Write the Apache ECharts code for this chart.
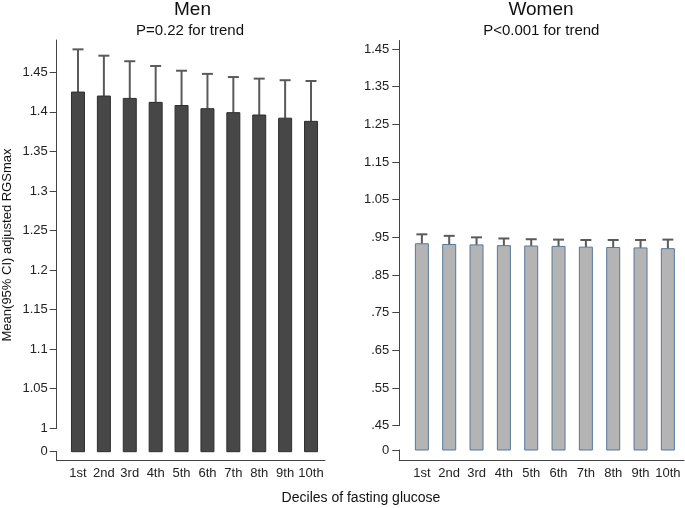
<!DOCTYPE html>
<html><head><meta charset="utf-8">
<script src="https://cdn.jsdelivr.net/npm/echarts@6/dist/echarts.min.js"></script>
<style>html,body{margin:0;padding:0;background:#fff}#c{width:685px;height:508px}</style>
</head><body><div id="c"></div>
<script>
// ---- data ----
const categories = ['1st','2nd','3rd','4th','5th','6th','7th','8th','9th','10th'];
const menMean    = [1.425,1.420,1.417,1.412,1.408,1.404,1.399,1.396,1.392,1.388];
const menUpper   = [1.479,1.471,1.464,1.458,1.452,1.448,1.444,1.442,1.440,1.439];
const womenMean  = [0.933,0.931,0.930,0.928,0.927,0.926,0.924,0.923,0.922,0.920];
const womenUpper = [0.958,0.954,0.950,0.947,0.945,0.944,0.943,0.943,0.943,0.944];
const menTicks   = [1,1.05,1.1,1.15,1.2,1.25,1.3,1.35,1.4,1.45];
const womenTicks = [0.45,0.55,0.65,0.75,0.85,0.95,1.05,1.15,1.25,1.35,1.45];
const menTitle = 'Men', menSub = 'P=0.22 for trend';
const womenTitle = 'Women', womenSub = 'P<0.001 for trend';
const yTitle = 'Mean(95% CI) adjusted RGSmax';
const xTitle = 'Deciles of fasting glucose';

// ---- layout ----
const FONT = 'Liberation Sans, Arial, sans-serif';
const panels = [
  {left:56.7, right:325, xMin:0.178, xMax:10.54, top:40, lo:1, topTick:1.45, topTickY:72.3,
   breakY:428.3, zeroY:451.7, bottom:460.7, ticks:menTicks, mean:menMean, upper:menUpper,
   fill:'#474747', stroke:'#2e2e2e', err:'#5a5a5a', fmt:v=>String(+v.toFixed(2)), tickLen:7, margin:9},
  {left:399.3, right:684, xMin:0.174, xMax:10.59, top:40.5, lo:0.45, topTick:1.45, topTickY:49,
   breakY:425.7, zeroY:450, bottom:460.7, ticks:womenTicks, mean:womenMean, upper:womenUpper,
   fill:'#b4b4b4', stroke:'#56789a', err:'#5a5a5a', fmt:v=>String(+v.toFixed(2)).replace(/^0\./,'.'), tickLen:7, margin:10}
];
panels.forEach(p=>{
  const upp = (p.topTick - p.lo)/(p.breakY - p.topTickY); // units per px
  p.hi = p.lo + (p.breakY - p.top)*upp;
  p.t0 = p.lo - (p.zeroY - p.breakY)*upp;
  p.tMin = p.lo - (p.bottom - p.breakY)*upp;
  p.tf = v => v >= p.lo ? v : p.t0 + (v/p.lo)*(p.lo - p.t0);
});

const grids=[], xAxes=[], yAxes=[], series=[];
const axisLineStyle = {color:'#444', width:1};
const labelStyle = {color:'#222', fontSize:13, fontFamily:FONT};
panels.forEach((p,pi)=>{
  const w = p.right - p.left;
  grids.push({left:p.left, top:p.top, width:w, height:p.bottom-p.top, containLabel:false, outerBoundsMode:'none'});
  grids.push({left:p.left, top:p.top, width:w, height:p.breakY-p.top, containLabel:false, outerBoundsMode:'none'});
  grids.push({left:p.left, top:p.zeroY, width:w, height:p.bottom-p.zeroY, containLabel:false, outerBoundsMode:'none'});
  const g0 = pi*3;
  xAxes.push({gridIndex:g0, type:'value', min:p.xMin, max:p.xMax, show:false});
  yAxes.push({gridIndex:g0, type:'value', min:p.tMin, max:p.hi, show:false});
  xAxes.push({gridIndex:g0+1, type:'value', min:p.xMin, max:p.xMax, show:false});
  yAxes.push({gridIndex:g0+1, type:'value', min:p.lo, max:p.hi,
    axisLine:{show:true, lineStyle:axisLineStyle},
    axisTick:{show:true, length:p.tickLen, customValues:p.ticks, lineStyle:axisLineStyle},
    axisLabel:{customValues:p.ticks, formatter:p.fmt, margin:p.margin, ...labelStyle},
    splitLine:{show:false}});
  xAxes.push({gridIndex:g0+2, type:'value', min:p.xMin, max:p.xMax, position:'bottom',
    axisLine:{show:true, onZero:false, lineStyle:axisLineStyle},
    axisTick:{show:false},
    axisLabel:{customValues:categories.map((c,i)=>i+1), formatter:v=>categories[Math.round(v)-1], margin:6, ...labelStyle},
    splitLine:{show:false}});
  yAxes.push({gridIndex:g0+2, type:'value', min:-1, max:0,
    axisLine:{show:true, onZero:false, lineStyle:axisLineStyle},
    axisTick:{show:true, length:p.tickLen, customValues:[0], lineStyle:axisLineStyle},
    axisLabel:{customValues:[0], formatter:()=> '0', margin:p.margin, ...labelStyle},
    splitLine:{show:false}});
  series.push({
    type:'custom', xAxisIndex:pi*3, yAxisIndex:pi*3, clip:false,
    data: categories.map((c,i)=>[i+1, p.mean[i], p.upper[i]]),
    encode:{x:0, y:1},
    renderItem:(params, api)=>{
      const x = api.value(0), m = api.value(1), u = api.value(2);
      const top = api.coord([x, p.tf(m)]);
      const base = api.coord([x, p.tf(0)]);
      const up = api.coord([x, p.tf(u)]);
      const bw = 13, cw = 11;
      return {type:'group', children:[
        {type:'line', shape:{x1:top[0], y1:top[1], x2:up[0], y2:up[1]}, style:{stroke:p.err, lineWidth:2}},
        {type:'line', shape:{x1:up[0]-cw/2, y1:up[1], x2:up[0]+cw/2, y2:up[1]}, style:{stroke:p.err, lineWidth:2}},
        {type:'rect', shape:{x:top[0]-bw/2, y:top[1], width:bw, height:base[1]-top[1]}, style:{fill:p.fill, stroke:p.stroke, lineWidth:1}}
      ]};
    }
  });
});

const chart = echarts.init(document.getElementById('c'), null, {renderer:'canvas'});
chart.setOption({
  animation:false,
  backgroundColor:'#fff',
  grid:grids, xAxis:xAxes, yAxis:yAxes, series:series,
  graphic:[
    {type:'text', x:192.5, y:9.5, style:{text:menTitle, font:'19px '+FONT, fill:'#111', textAlign:'center', textVerticalAlign:'middle'}},
    {type:'text', x:190, y:30.5, style:{text:menSub, font:'15px '+FONT, fill:'#111', textAlign:'center', textVerticalAlign:'middle'}},
    {type:'text', x:541, y:9.5, style:{text:womenTitle, font:'19px '+FONT, fill:'#111', textAlign:'center', textVerticalAlign:'middle'}},
    {type:'text', x:541.3, y:30.5, style:{text:womenSub, font:'15px '+FONT, fill:'#111', textAlign:'center', textVerticalAlign:'middle'}},
    {type:'text', x:7, y:245, rotation:Math.PI/2, style:{text:yTitle, font:'13px '+FONT, fill:'#111', textAlign:'center', textVerticalAlign:'middle'}},
    {type:'text', x:361, y:498.5, style:{text:xTitle, font:'14px '+FONT, fill:'#111', textAlign:'center', textVerticalAlign:'middle'}}
  ]
});
</script></body></html>
